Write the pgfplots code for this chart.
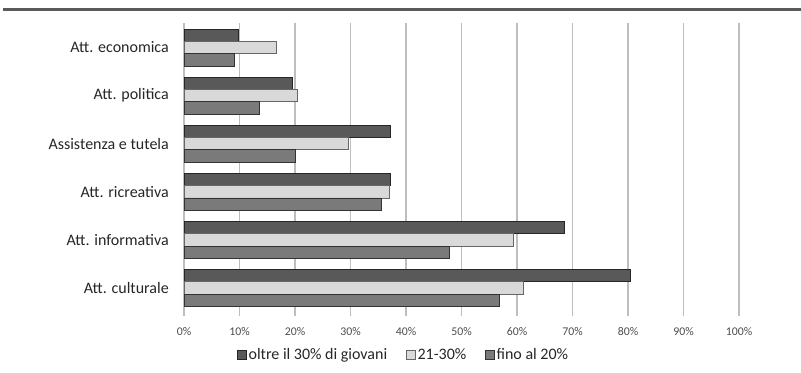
\documentclass[border=0pt]{standalone}
\usepackage{pgfplots}
\pgfplotsset{compat=1.18}
\usepackage{fontspec}
\setmainfont{Carlito}

\definecolor{cdark}{RGB}{89,89,89}
\definecolor{clight}{RGB}{217,217,217}
\definecolor{cmid}{RGB}{122,122,122}
\definecolor{cgrid}{RGB}{190,190,190}
\definecolor{crule}{RGB}{90,90,90}

\begin{document}
\begin{tikzpicture}[x=1bp,y=1bp]
\useasboundingbox (0,0) rectangle (801,372);
% heading rule
\fill[crule] (3,361) rectangle (801,364);
\begin{axis}[
  at={(184bp,60bp)}, anchor=south west,
  scale only axis, width=555bp, height=288.5bp,
  xbar, bar width=12.3bp,
  xmin=0, xmax=100, ymin=-0.5, ymax=5.5,
  axis line style={draw=none},
  xmajorgrids, major grid style={cgrid, line width=1.3bp},
  xtick={0,10,...,100},
  xticklabel={\pgfmathprintnumber{\tick}\%},
  /pgf/number format/assume math mode=true,
  xtick pos=bottom, tick align=outside, major tick length=4bp,
  xtick style={cgrid, line width=1.3bp},
  ytick={0,...,5},
  yticklabels={Att. culturale, Att. informativa, Att. ricreativa, Assistenza e tutela, Att. politica, Att. economica},
  ytick style={draw=none}, ytick pos=left,
  x tick label style={font=\fontsize{11.8bp}{13bp}\selectfont, text=black!70, anchor=base, inner sep=0pt, yshift=-19.8bp},
  y tick label style={font=\fontsize{16bp}{18bp}\selectfont, text=black!85, anchor=east, inner sep=0pt, xshift=-11bp},
  legend style={at={(0.395,-0.149)}, anchor=center, draw=none, fill=none,
    font=\fontsize{16bp}{18bp}\selectfont, text=black!85,
    nodes={inner sep=1.5bp},
    /tikz/every even column/.append style={column sep=17bp},
    /tikz/every odd column/.append style={column sep=0bp}},
  legend columns=3,
  legend image code/.code={\draw[#1, line width=0.8bp] (0bp,-4.8bp) rectangle (9.5bp,4.8bp);},
]
\addplot[fill=cdark, draw=black!85, line width=0.8bp, bar shift=12.3bp]
  coordinates {(80.4,0) (68.6,1) (37.2,2) (37.2,3) (19.6,4) (9.8,5)};
\addplot[fill=clight, draw=black!60, line width=0.8bp, bar shift=0bp]
  coordinates {(61.1,0) (59.3,1) (37.0,2) (29.7,3) (20.4,4) (16.7,5)};
\addplot[fill=cmid, draw=black!80, line width=0.8bp, bar shift=-12.3bp]
  coordinates {(56.8,0) (47.8,1) (35.5,2) (20.1,3) (13.6,4) (9.1,5)};
\legend{oltre il 30\% di giovani, 21-30\%, fino al 20\%}
\end{axis}
\end{tikzpicture}
\end{document}
